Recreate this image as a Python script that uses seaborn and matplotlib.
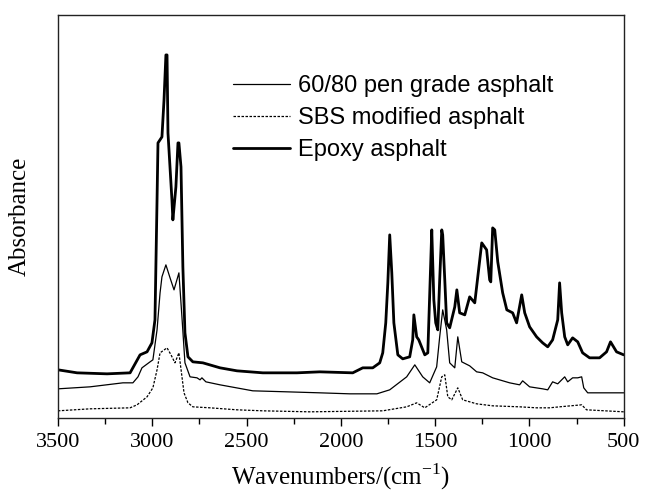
import matplotlib
matplotlib.use("Agg")
import matplotlib.pyplot as plt
import numpy as np
import pandas as pd
import seaborn as sns
from matplotlib.ticker import MultipleLocator

# FTIR spectra (wavenumber in cm-1, absorbance in arbitrary units)
epoxy_wn = [3500, 3399, 3240, 3118, 3065, 3028, 3002, 2986, 2975, 2970, 2949, 2938,
            2928, 2922, 2917, 2896, 2891, 2875, 2864, 2859, 2848, 2838, 2827, 2811,
            2785, 2732, 2641, 2551, 2414, 2233, 2112, 1937, 1884, 1831, 1794, 1778,
            1762, 1751, 1741, 1730, 1719, 1698, 1672, 1635, 1619, 1613, 1598, 1587,
            1555, 1539, 1523, 1518, 1507, 1497, 1486, 1476, 1465, 1460, 1449, 1439,
            1423, 1396, 1385, 1370, 1343, 1317, 1290, 1253, 1227, 1211, 1205, 1195,
            1184, 1168, 1142, 1120, 1089, 1068, 1041, 1025, 999, 962, 930, 903, 877,
            850, 840, 829, 813, 797, 771, 744, 718, 681, 628, 591, 570, 538, 500]
epoxy_abs = [0.48, 0.45, 0.44, 0.45, 0.63, 0.66, 0.75, 0.98, 2.18, 2.75, 2.81, 3.18,
             3.63, 3.63, 2.85, 2.18, 1.98, 2.31, 2.75, 2.75, 2.51, 1.51, 0.85, 0.61,
             0.56, 0.55, 0.50, 0.47, 0.45, 0.45, 0.46, 0.45, 0.50, 0.50, 0.55, 0.65,
             0.95, 1.35, 1.83, 1.45, 0.95, 0.63, 0.59, 0.61, 0.78, 1.03, 0.81, 0.78,
             0.63, 0.65, 1.58, 1.88, 1.18, 0.95, 0.88, 1.38, 1.88, 1.83, 1.38, 0.95,
             0.90, 1.11, 1.28, 1.05, 1.03, 1.21, 1.15, 1.75, 1.68, 1.38, 1.36, 1.90,
             1.88, 1.56, 1.25, 1.08, 1.05, 0.95, 1.23, 1.05, 0.91, 0.81, 0.75, 0.71,
             0.78, 0.98, 1.35, 1.05, 0.81, 0.73, 0.80, 0.76, 0.65, 0.60, 0.60, 0.66,
             0.76, 0.66, 0.63]

pen_wn = [3500, 3330, 3156, 3103, 3076, 3055, 3012, 2997, 2975, 2959, 2949, 2928,
          2906, 2885, 2859, 2843, 2827, 2800, 2763, 2747, 2737, 2716, 2641, 2467,
          2286, 2112, 1953, 1809, 1741, 1651, 1608, 1566, 1529, 1492, 1476, 1460,
          1439, 1423, 1396, 1380, 1359, 1317, 1280, 1248, 1195, 1105, 1052, 1036,
          999, 930, 903, 877, 850, 813, 797, 771, 744, 723, 712, 691, 500]
pen_abs = [0.29, 0.31, 0.35, 0.35, 0.41, 0.50, 0.56, 0.58, 0.88, 1.25, 1.41, 1.53,
           1.40, 1.28, 1.45, 1.01, 0.55, 0.41, 0.40, 0.38, 0.40, 0.36, 0.33, 0.27,
           0.26, 0.25, 0.24, 0.24, 0.28, 0.41, 0.53, 0.41, 0.35, 0.51, 0.81, 1.08,
           0.88, 0.55, 0.50, 0.81, 0.56, 0.52, 0.46, 0.45, 0.40, 0.35, 0.33, 0.37,
           0.31, 0.29, 0.28, 0.36, 0.34, 0.41, 0.36, 0.40, 0.40, 0.41, 0.30, 0.25, 0.25]

sbs_wn = [3500, 3330, 3118, 3081, 3028, 2997, 2975, 2959, 2922, 2901, 2880, 2859,
          2832, 2811, 2785, 2694, 2551, 2414, 2165, 1778, 1651, 1598, 1555, 1492,
          1465, 1449, 1433, 1412, 1380, 1354, 1280, 1195, 1052, 962, 893, 840, 723,
          697, 500]
sbs_abs = [0.07, 0.09, 0.10, 0.13, 0.21, 0.30, 0.48, 0.65, 0.70, 0.63, 0.55, 0.65,
           0.25, 0.15, 0.11, 0.10, 0.08, 0.07, 0.06, 0.07, 0.11, 0.15, 0.10, 0.18,
           0.41, 0.43, 0.21, 0.18, 0.30, 0.18, 0.14, 0.12, 0.11, 0.10, 0.10, 0.11,
           0.13, 0.08, 0.06]

labels = ["60/80 pen grade asphalt", "SBS modified asphalt", "Epoxy asphalt"]

sns.set_style("ticks")
plt.rcParams["font.family"] = ["Liberation Serif", "DejaVu Serif"]
plt.rcParams["text.color"] = "black"
plt.rcParams["axes.labelcolor"] = "black"
plt.rcParams["xtick.color"] = "black"

fig = plt.figure(figsize=(6.45, 4.98), dpi=100)
ax = fig.add_axes([0.090, 0.161, 0.877, 0.809])

sns.lineplot(x=pen_wn, y=pen_abs, ax=ax, color="black", linewidth=0.9,
             estimator=None, label=labels[0])
sns.lineplot(x=sbs_wn, y=sbs_abs, ax=ax, color="black", linewidth=0.9,
             estimator=None, label=labels[1], linestyle=(0, (2, 1.2)))
sns.lineplot(x=epoxy_wn, y=epoxy_abs, ax=ax, color="black", linewidth=2.0,
             estimator=None, label=labels[2])

ax.set_xlim(3500, 500)
ax.set_ylim(0, 4.03)
ax.xaxis.set_major_locator(MultipleLocator(500))
ax.xaxis.set_minor_locator(MultipleLocator(250))
ax.set_yticks([])
ax.tick_params(axis="x", which="major", direction="out", length=6, width=1,
               labelsize=16, pad=5, colors="black")
ax.tick_params(axis="x", which="minor", direction="out", length=4, width=1)
for sp in ax.spines.values():
    sp.set_visible(True)
    sp.set_linewidth(1.0)
    sp.set_color("#222222")

ax.set_xlabel("Wavenumbers/(cm$^{\\mathregular{-1}}$)", fontsize=18, labelpad=7)
ax.set_ylabel("Absorbance", fontsize=18, labelpad=20)

leg = ax.legend(loc="upper left", bbox_to_anchor=(0.309, 0.85), frameon=False,
                borderpad=0, borderaxespad=0, handlelength=2.4, handletextpad=0.35,
                labelspacing=0.42, prop={"family": "Liberation Sans", "size": 17})
for t in leg.get_texts():
    t.set_color("black")

fig.savefig("out.png", dpi=100)
